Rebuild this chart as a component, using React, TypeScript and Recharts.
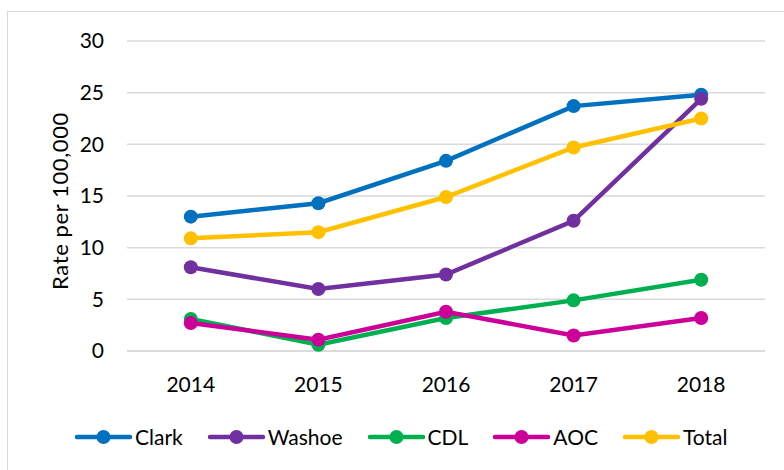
import React from 'react';
import { LineChart, Line, XAxis, YAxis, CartesianGrid } from 'recharts';

const years = ['2014', '2015', '2016', '2017', '2018'];
const clark = [13.0, 14.3, 18.4, 23.7, 24.8];
const washoe = [8.1, 6.0, 7.4, 12.6, 24.4];
const cdl = [3.1, 0.6, 3.2, 4.9, 6.9];
const aoc = [2.7, 1.1, 3.8, 1.5, 3.2];
const total = [10.9, 11.5, 14.9, 19.7, 22.5];
const yTicks = [0, 5, 10, 15, 20, 25, 30];

const SERIES = [
  { key: 'Clark', values: clark, color: '#0070C0' },
  { key: 'Washoe', values: washoe, color: '#7030A0' },
  { key: 'CDL', values: cdl, color: '#00B050' },
  { key: 'AOC', values: aoc, color: '#CC0099' },
  { key: 'Total', values: total, color: '#FFC000' },
];

const data = years.map((year, i) => {
  const row: Record<string, string | number> = { year };
  SERIES.forEach((s) => {
    row[s.key] = s.values[i];
  });
  return row;
});

const FONT = 'Lato, "Open Sans", sans-serif';

function ChartLegend() {
  return (
    <div
      style={{
        position: 'absolute',
        left: 75,
        top: 425,
        display: 'flex',
        alignItems: 'center',
        fontFamily: FONT,
        fontSize: 21,
        color: '#000',
        lineHeight: '24px',
      }}
    >
      {SERIES.map((s) => (
        <div key={s.key} style={{ display: 'flex', alignItems: 'center', marginRight: 25 }}>
          <svg width={57} height={16} style={{ marginRight: 3 }}>
            <line x1={2} y1={8} x2={55} y2={8} stroke={s.color} strokeWidth={4.5} strokeLinecap="round" />
            <circle cx={28.5} cy={8} r={7} fill={s.color} />
          </svg>
          <span>{s.key}</span>
        </div>
      ))}
    </div>
  );
}

export default function App() {
  return (
    <div style={{ position: 'absolute', left: 0, top: 0, width: 784, height: 470, overflow: 'hidden', background: '#fff' }}>
      <div style={{ position: 'absolute', left: 7, top: 11, width: 820, height: 500, border: '1px solid #D9D9D9' }} />
      <div style={{ position: 'absolute', left: 0, top: 0 }}>
        <LineChart width={784} height={470} data={data} margin={{ top: 41, right: 19, bottom: 0, left: 0 }}>
          <CartesianGrid vertical={false} stroke="#D9D9D9" strokeWidth={1.5} />
          <XAxis
            dataKey="year"
            padding={{ left: 63.8, right: 63.8 }}
            axisLine={{ stroke: '#D9D9D9', strokeWidth: 1.5 }}
            tickLine={false}
            tickSize={0}
            tickMargin={26}
            height={119}
            tick={{ fill: '#000', fontSize: 21, fontFamily: FONT }}
          />
          <YAxis
            domain={[0, 30]}
            ticks={yTicks}
            width={127}
            axisLine={false}
            tickLine={false}
            tickSize={0}
            tickMargin={23}
            tick={{ fill: '#000', fontSize: 21, fontFamily: FONT }}
            label={{
              value: 'Rate per 100,000',
              angle: -90,
              position: 'center',
              dx: -3,
              dy: 5,
              style: { fill: '#000', fontSize: 22, fontFamily: FONT, textAnchor: 'middle', letterSpacing: 0.6 },
            }}
          />
          {SERIES.map((s) => (
            <Line
              key={s.key}
              type="linear"
              dataKey={s.key}
              stroke={s.color}
              strokeWidth={4.5}
              dot={{ r: 7, fill: s.color, stroke: 'none' }}
              activeDot={false}
              isAnimationActive={false}
            />
          ))}
        </LineChart>
      </div>
      <ChartLegend />
    </div>
  );
}
